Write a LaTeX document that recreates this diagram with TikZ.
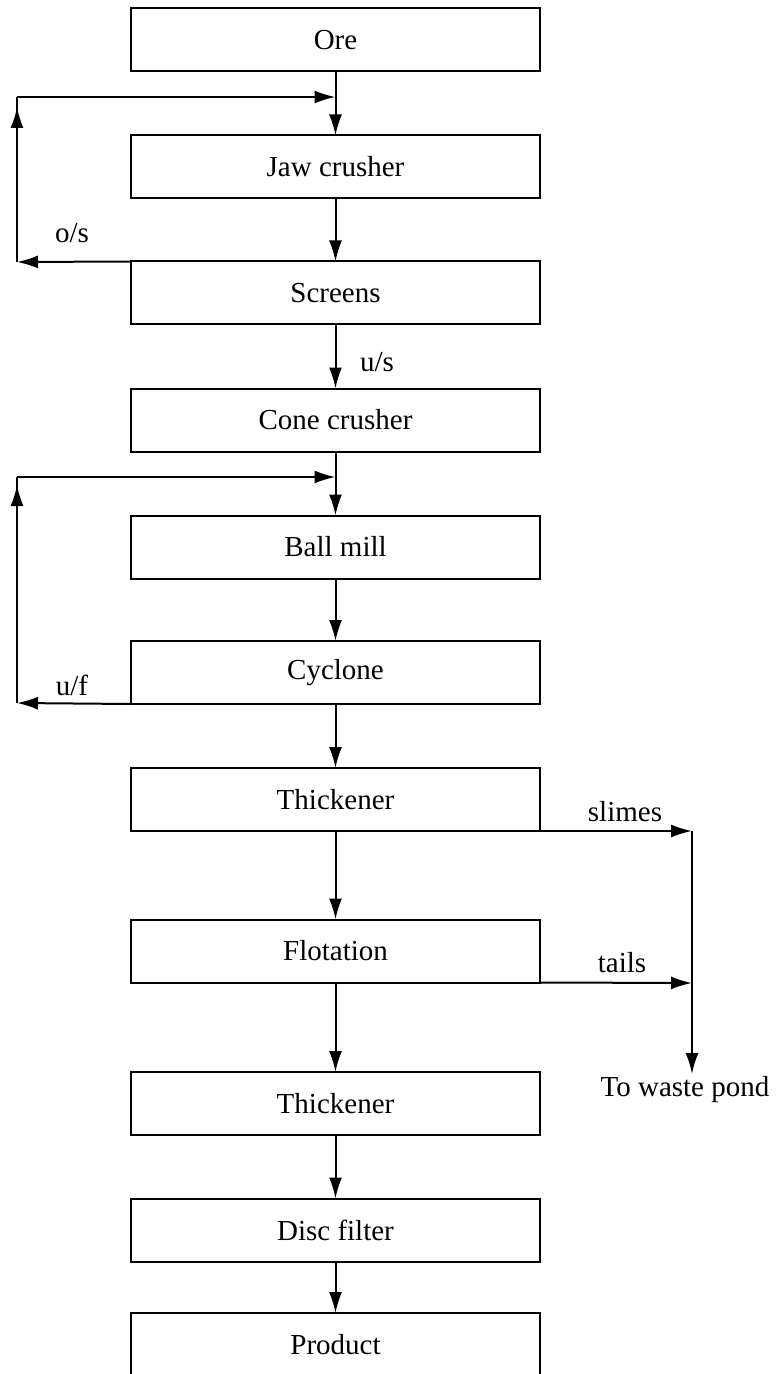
\documentclass[tikz,border=0pt]{standalone}
\usepackage{fontspec}
\setmainfont{Liberation Serif}
\usetikzlibrary{arrows.meta}

\begin{document}
\begin{tikzpicture}[
  x=0.5pt, y=-0.5pt,
  box/.style={
    draw,
    line width=1pt,
    minimum width=204.5pt,
    minimum height=31.5pt,
    inner sep=0pt,
    outer sep=0pt,
    font=\fontsize{14.5}{17}\selectfont
  },
  lbl/.style={inner sep=1pt, font=\fontsize{14.5}{17}\selectfont},
  arrow/.style={-{Latex[length=10.5pt,width=6.5pt]}, line width=1pt}
]
\useasboundingbox (0,0) rectangle (778,1374);

\node[box] (ore)  at (335.5,40)     {Ore};
\node[box] (jaw)  at (335.5,167)    {Jaw crusher};
\node[box] (scr)  at (335.5,293)    {Screens};
\node[box] (cone) at (335.5,420)    {Cone crusher};
\node[box] (ball) at (335.5,547)    {Ball mill};
\node[box] (cyc)  at (335.5,672.5)  {Cyclone};
\node[box] (thk1) at (335.5,799.5)  {Thickener};
\node[box] (flot) at (335.5,951)    {Flotation};
\node[box] (thk2) at (335.5,1103.5) {Thickener};
\node[box] (disc) at (335.5,1230)   {Disc filter};
\node[box] (prod) at (335.5,1344.5) {Product};

\node[lbl] (os)     at (72,233)  {o/s};
\node[lbl] (us)     at (377,362) {u/s};
\node[lbl] (uf)     at (72,685)  {u/f};
\node[lbl] (slimes) at (625,812) {slimes};
\node[lbl] (tails)  at (622,963) {tails};
\node[lbl, anchor=north] (pond) at (685,1074) {To waste pond};

\coordinate (os1) at (17,262);
\coordinate (os2) at (17,97);
\coordinate (in1) at (ore.south |- os2);
\coordinate (uf1) at (17,703);
\coordinate (uf2) at (17,477);
\coordinate (in2) at (cone.south |- uf2);
\coordinate (w1) at (692,831);
\coordinate (w2) at (692,983);

% main line
\draw[arrow] (ore) -- (jaw);
\draw[arrow] (jaw) -- (scr);
\draw[arrow] (scr) -- (cone);
\draw[arrow] (cone) -- (ball);
\draw[arrow] (ball) -- (cyc);
\draw[arrow] (cyc) -- (thk1);
\draw[arrow] (thk1) -- (flot);
\draw[arrow] (flot) -- (thk2);
\draw[arrow] (thk2) -- (disc);
\draw[arrow] (disc) -- (prod);

% screen oversize back to jaw crusher
\draw[arrow] (scr.north west) -- (os1);
\draw[line width=1pt] (os1) -- (os2);
\draw[arrow, shorten >=5pt] (os1) -- (os2);
\draw[arrow] (os2) -- (in1);

% cyclone underflow back to ball mill
\draw[arrow] (cyc.south west) -- (uf1);
\draw[line width=1pt] (uf1) -- (uf2);
\draw[arrow, shorten >=4pt] (uf1) -- (uf2);
\draw[arrow] (uf2) -- (in2);

% waste
\draw[arrow] (thk1.south east) -- (w1);
\draw[arrow] (flot.south east) -- (w2);
\draw[arrow] (w1) -- (w1 |- pond.north);
\end{tikzpicture}
\end{document}
